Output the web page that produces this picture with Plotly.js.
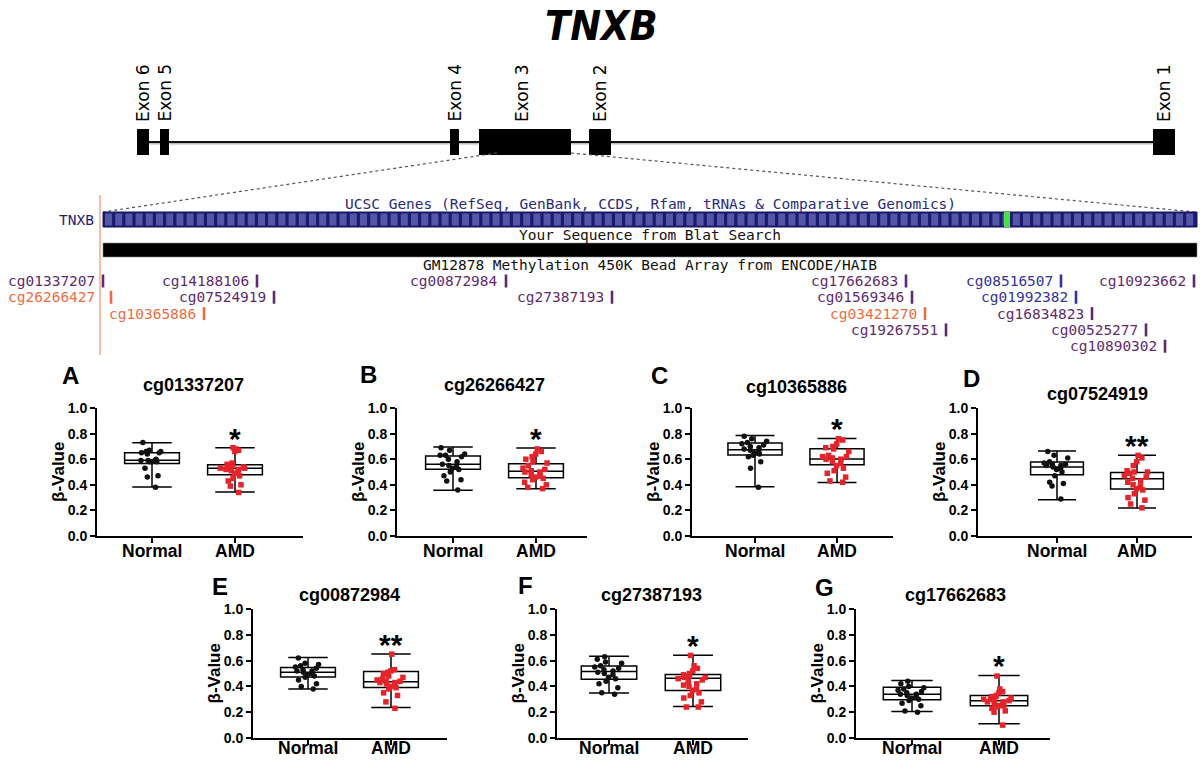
<!DOCTYPE html>
<html><head><meta charset="utf-8">
<script src="https://cdn.plot.ly/plotly-3.0.1.min.js"></script>
<style>html,body{margin:0;padding:0;background:#fff}#chart{width:1200px;height:760px}</style>
</head><body><div id="chart"></div>
<script>
// ---------------- DATA ----------------
// Gene model of TNXB (positions along the drawn gene, diagram units 0-1200)
const exonNames = ['Exon 6','Exon 5','Exon 4','Exon 3','Exon 2','Exon 1'];
const exonStart = [137, 160, 450, 479, 589, 1153];
const exonEnd   = [149, 169, 459, 571, 611, 1175];
const geneStart = 140, geneEnd = 1165;

// 450K probes in the zoomed exon 3 region (track units 0-1200)
const probeNames = ['cg01337207','cg14188106','cg00872984','cg17662683','cg08516507','cg10923662',
  'cg26266427','cg07524919','cg27387193','cg01569346','cg01992382',
  'cg10365886','cg03421270','cg16834823',
  'cg19267551','cg00525277','cg10890302'];
const probePos   = [103,257,506,906,1061,1194, 111,274,612,912,1076, 204,925,1092, 946,1146,1165];
const probeRow   = [0,0,0,0,0,0, 1,1,1,1,1, 2,2,2, 3,3,4];
const probeClass = ['p','p','p','p','b','p', 'o','p','p','p','b', 'o','o','p', 'p','p','p'];
const probeGap   = [6,6,6,6,6,6, 14,6,6,6,6, 6,6,6, 6,6,6];

// Box plot panels
const panelLetters = ['A','B','C','D','E','F','G'];
const panelProbes  = ['cg01337207','cg26266427','cg10365886','cg07524919','cg00872984','cg27387193','cg17662683'];
const panelSig     = ['*','*','*','**','**','*','*'];
const groups = ['Normal','AMD'];

// [min, q1, median, q3, max]
const boxNormalA = [0.383, 0.567, 0.592, 0.651, 0.729];
const boxAmdA    = [0.344, 0.479, 0.530, 0.557, 0.690];
const boxNormalB = [0.357, 0.521, 0.560, 0.625, 0.695];
const boxAmdB    = [0.370, 0.456, 0.505, 0.565, 0.688];
const boxNormalC = [0.384, 0.632, 0.674, 0.726, 0.786];
const boxAmdC    = [0.418, 0.556, 0.601, 0.681, 0.762];
const boxNormalD = [0.284, 0.479, 0.539, 0.578, 0.664];
const boxAmdD    = [0.219, 0.367, 0.448, 0.497, 0.630];
const boxNormalE = [0.379, 0.472, 0.510, 0.546, 0.624];
const boxAmdE    = [0.237, 0.392, 0.436, 0.515, 0.652];
const boxNormalF = [0.348, 0.456, 0.515, 0.559, 0.634];
const boxAmdF    = [0.245, 0.369, 0.464, 0.492, 0.642];
const boxNormalG = [0.206, 0.296, 0.340, 0.394, 0.446];
const boxAmdG    = [0.111, 0.250, 0.289, 0.330, 0.485];

const normalA = [0.73,0.67,0.66,0.66,0.65,0.65,0.64,0.60,0.59,0.59,0.59,0.58,0.58,0.58,0.53,0.47,0.46,0.38];
const amdA    = [0.69,0.68,0.67,0.66,0.57,0.56,0.55,0.54,0.54,0.53,0.53,0.53,0.52,0.52,0.51,0.50,0.49,0.47,0.45,0.43,0.40,0.39,0.34];
const normalB = [0.69,0.67,0.64,0.63,0.63,0.62,0.60,0.58,0.56,0.55,0.54,0.53,0.52,0.50,0.47,0.44,0.43,0.36];
const amdB    = [0.68,0.66,0.64,0.62,0.60,0.58,0.57,0.55,0.53,0.52,0.51,0.50,0.50,0.48,0.47,0.46,0.45,0.44,0.42,0.40,0.38,0.37];
const normalC = [0.78,0.76,0.74,0.73,0.72,0.71,0.70,0.69,0.68,0.67,0.66,0.65,0.64,0.63,0.62,0.58,0.53,0.38];
const amdC    = [0.76,0.75,0.72,0.70,0.69,0.68,0.66,0.63,0.62,0.62,0.61,0.60,0.60,0.58,0.57,0.55,0.53,0.51,0.49,0.46,0.43,0.42];
const normalD = [0.66,0.63,0.61,0.58,0.57,0.56,0.56,0.55,0.55,0.54,0.53,0.52,0.50,0.47,0.42,0.41,0.39,0.29];
const amdD    = [0.63,0.61,0.58,0.55,0.51,0.50,0.50,0.49,0.47,0.46,0.45,0.43,0.42,0.40,0.39,0.37,0.36,0.33,0.30,0.28,0.25,0.22];
const normalE = [0.62,0.58,0.57,0.56,0.55,0.54,0.53,0.52,0.52,0.51,0.50,0.49,0.48,0.47,0.45,0.42,0.40,0.38];
const amdE    = [0.65,0.53,0.52,0.51,0.50,0.48,0.47,0.46,0.45,0.44,0.44,0.43,0.43,0.42,0.41,0.40,0.39,0.38,0.35,0.33,0.28,0.23];
const normalF = [0.63,0.61,0.59,0.58,0.56,0.55,0.54,0.53,0.52,0.51,0.50,0.49,0.47,0.46,0.44,0.42,0.39,0.35,0.34];
const amdF    = [0.64,0.56,0.54,0.52,0.50,0.49,0.48,0.47,0.47,0.46,0.45,0.44,0.42,0.41,0.40,0.38,0.37,0.35,0.33,0.31,0.28,0.24,0.24];
const normalG = [0.44,0.42,0.40,0.39,0.38,0.37,0.36,0.35,0.34,0.34,0.33,0.32,0.31,0.30,0.29,0.27,0.25,0.21,0.20];
const amdG    = [0.48,0.38,0.36,0.35,0.33,0.32,0.32,0.31,0.30,0.30,0.29,0.29,0.28,0.28,0.27,0.26,0.25,0.25,0.24,0.23,0.21,0.20,0.10];

const yTicks = [0, 0.2, 0.4, 0.6, 0.8, 1.0];
const yTitle = 'β-Value';

// ---------------- STYLE / LAYOUT ----------------
const W = 1200, H = 760;
const SANS = 'Liberation Sans, Arial, Helvetica, sans-serif';
const MONO = 'DejaVu Sans Mono, Liberation Mono, monospace';
const MONO_SIZE = 14.5;
const probeColors = {p:'#5f2b70', b:'#34349c', o:'#ec6d43'};

const boxesNormal = [boxNormalA,boxNormalB,boxNormalC,boxNormalD,boxNormalE,boxNormalF,boxNormalG];
const boxesAmd    = [boxAmdA,boxAmdB,boxAmdC,boxAmdD,boxAmdE,boxAmdF,boxAmdG];
const ptsNormal   = [normalA,normalB,normalC,normalD,normalE,normalF,normalG];
const ptsAmd      = [amdA,amdB,amdC,amdD,amdE,amdF,amdG];

// pixel frame of each panel: left axis, Normal centre, AMD centre, right end
const frames = [
  {L:97,  N:152,  A:235,  R:303,  row:0, lx:70,  ly:375, ty:385},
  {L:397, N:453,  A:536,  R:587,  row:0, lx:368, ly:374, ty:385},
  {L:692, N:755,  A:837,  R:893,  row:0, lx:659, ly:375, ty:387},
  {L:978, N:1057, A:1137, R:1192, row:0, lx:971, ly:378, ty:394},
  {L:253, N:308,  A:391,  R:447,  row:1, lx:220, ly:586, ty:595},
  {L:557, N:609,  A:693,  R:748,  row:1, lx:525, ly:585, ty:595},
  {L:856, N:912,  A:999,  R:1050, row:1, lx:824, ly:587, ty:595}
];
const rows = [{top:408, bot:536}, {top:609, bot:738}];

const traces = [];
const layout = {
  width: W, height: H,
  margin: {l:0, r:0, t:0, b:0},
  paper_bgcolor: '#ffffff', plot_bgcolor: 'rgba(0,0,0,0)',
  showlegend: false, boxmode: 'overlay',
  font: {family: SANS, color: '#000'},
  shapes: [], annotations: []
};

frames.forEach((f, i) => {
  const n = i + 1, sx = n === 1 ? '' : String(n);
  const xa = 'x' + sx, ya = 'y' + sx;
  const unit = f.A - f.N;
  const r = rows[f.row];
  layout['xaxis' + sx] = {
    domain: [f.L / W, f.R / W], anchor: ya,
    type: 'category', categoryorder: 'array', categoryarray: groups,
    range: [-(f.N - f.L) / unit, 1 + (f.R - f.A) / unit],
    showline: true, linewidth: 2, linecolor: '#000', mirror: false,
    ticks: 'outside', ticklen: 5, tickwidth: 2, tickcolor: '#000',
    showgrid: false, zeroline: false, fixedrange: true, showticklabels: false
  };
  layout['yaxis' + sx] = {
    domain: [1 - r.bot / H, 1 - r.top / H], anchor: xa,
    range: [0, 1], tickvals: yTicks, tickformat: '.1f',
    showline: true, linewidth: 2, linecolor: '#000',
    ticks: 'outside', ticklen: 5, tickwidth: 2, tickcolor: '#000',
    showgrid: false, zeroline: false, fixedrange: true,
    tickfont: {family: SANS, size: 14, weight: 'bold', color: '#000'}
  };

  [[0, boxesNormal[i], ptsNormal[i], '#111111', 'circle'],
   [1, boxesAmd[i], ptsAmd[i], '#e3242b', 'square']].forEach(([g, b, pts, col, sym]) => {
    traces.push({
      type: 'box', xaxis: xa, yaxis: ya, x: [groups[g]],
      lowerfence: [b[0]], q1: [b[1]], median: [b[2]], q3: [b[3]], upperfence: [b[4]],
      boxpoints: false, width: 0.66, whiskerwidth: 0.72,
      fillcolor: 'rgba(255,255,255,1)', line: {color: '#000', width: 1.5},
      hoverinfo: 'skip'
    });
    traces.push({
      type: 'box', xaxis: xa, yaxis: ya, x: pts.map(() => groups[g]), y: pts,
      boxpoints: 'all', jitter: 0.55, pointpos: 0, width: 0.66,
      fillcolor: 'rgba(0,0,0,0)', line: {color: 'rgba(0,0,0,0)', width: 0},
      marker: {color: col, size: 5.5, symbol: sym},
      whiskerwidth: 0
    });
    // category label under the axis (bottom row is pinned to the page edge)
    const lab = f.row === 0
      ? {y: 1 - r.bot / H, yshift: -3, yanchor: 'top'}
      : {y: 0, yshift: 0, yanchor: 'bottom'};
    layout.annotations.push({xref: xa, yref: 'paper', x: groups[g], y: lab.y, yshift: lab.yshift,
      text: groups[g], showarrow: false, xanchor: 'center', yanchor: lab.yanchor,
      font: {family: SANS, size: 17.5, weight: 'bold', color: '#000'}});
  });

  // y-axis title
  layout.annotations.push({xref: 'paper', yref: ya, x: (f.L - 39) / W, y: 0.5, textangle: -90,
    text: yTitle, showarrow: false, xanchor: 'center', yanchor: 'middle',
    font: {family: SANS, size: 17, weight: 'bold', color: '#000'}});
  // panel letter
  layout.annotations.push({xref:'paper', yref:'paper', x: f.lx / W, y: 1 - f.ly / H,
    text: panelLetters[i], showarrow: false, xanchor: 'center', yanchor: 'middle',
    font: {family: SANS, size: 24, weight: 'bold', color: '#000'}});
  // panel title (probe id), centred between the two groups
  layout.annotations.push({xref: xa, yref:'paper', x: 0.5, y: 1 - f.ty / H,
    text: panelProbes[i], showarrow: false, xanchor: 'center', yanchor: 'middle',
    font: {family: SANS, size: 18, weight: 'bold', color: '#000'}});
  // significance mark above AMD whisker
  layout.annotations.push({xref: xa, yref: ya, x: groups[1], y: boxesAmd[i][4],
    text: panelSig[i], showarrow: false, xanchor: 'center', yanchor: 'bottom', yshift: -9,
    font: {family: SANS, size: 30, weight: 'bold', color: '#000'}});
});

// Overlay axis for the gene diagram / genome browser track (top part)
const TOP = 365;
layout.xaxis8 = {domain: [0, 1], range: [0, W], visible: false, fixedrange: true, anchor: 'y8'};
layout.yaxis8 = {domain: [1 - TOP / H, 1], range: [TOP, 0], visible: false, fixedrange: true, anchor: 'x8'};
traces.push({type:'scatter', xaxis:'x8', yaxis:'y8', x:[0], y:[0], mode:'markers',
  marker:{opacity:0}, hoverinfo:'skip'});
const S = layout.shapes, AN = layout.annotations;
const ov = {xref:'x8', yref:'y8'};

// Title
AN.push({...ov, x: 601, y: 0, text: '<i>TNXB</i>', showarrow: false, xanchor:'center', yanchor:'top',
  font: {family: 'Liberation Sans Narrow, DejaVu Sans Condensed, Arial Narrow, sans-serif', size: 41, weight: 'bold', color:'#000'}});

// Gene backbone and exons
S.push({...ov, type:'line', x0: geneStart, x1: geneEnd, y0: 143.5, y1: 143.5, line:{color:'#bbbbbb', width:2}});
S.push({...ov, type:'line', x0: geneStart, x1: geneEnd, y0: 142, y1: 142, line:{color:'#111', width:2}});
exonNames.forEach((nm, k) => {
  S.push({...ov, type:'rect', x0: exonStart[k], x1: exonEnd[k], y0: 129, y1: 155,
    fillcolor:'#000', line:{width:0}});
  AN.push({...ov, x: (exonStart[k] + exonEnd[k]) / 2 + (k === 3 ? -3 : 0), y: 124, text: nm, textangle: -90,
    showarrow:false, xanchor:'center', yanchor:'bottom',
    font:{family:'DejaVu Sans, Verdana, sans-serif', size:17, color:'#000'}});
});
// zoom lines from exon 3 to the browser track
S.push({...ov, type:'line', x0: 497, y0: 153, x1: 103, y1: 212, line:{color:'#555', width:1.2, dash:'dot'}});
S.push({...ov, type:'line', x0: exonEnd[3], y0: 153, x1: 1195, y1: 212, line:{color:'#555', width:1.2, dash:'dot'}});

// Browser track
S.push({...ov, type:'line', x0: 100, x1: 100, y0: 195, y1: 355, line:{color:'#f2a689', width:1.5}});
AN.push({...ov, x: 650, y: 204, text: 'UCSC Genes (RefSeq, GenBank, CCDS, Rfam, tRNAs &amp; Comparative Genomics)',
  showarrow:false, xanchor:'center', yanchor:'middle', font:{family:MONO, size:MONO_SIZE, color:'#2b2b7d'}});
AN.push({...ov, x: 96, y: 220, text: 'TNXB', showarrow:false, xanchor:'right', yanchor:'middle',
  font:{family:MONO, size:MONO_SIZE, color:'#1f1f70'}});
S.push({...ov, type:'rect', x0: 103, x1: 1197, y0: 212, y1: 227, fillcolor:'#1b1b72', line:{color:'#15155e', width:1}});
for (let sx = 105; sx < 1194; sx += 10.2) {
  S.push({...ov, type:'rect', x0: sx, x1: Math.min(sx + 7, 1195), y0: 213.5, y1: 225.5, fillcolor:'#5656a6', line:{width:0}});
}
S.push({...ov, type:'rect', x0: 1004, x1: 1010, y0: 212, y1: 227, fillcolor:'#4be04b', line:{width:0}});
AN.push({...ov, x: 650, y: 235, text: 'Your Sequence from Blat Search', showarrow:false, xanchor:'center', yanchor:'middle',
  font:{family:MONO, size:MONO_SIZE, color:'#111'}});
S.push({...ov, type:'rect', x0: 103, x1: 1197, y0: 243, y1: 257, fillcolor:'#000', line:{color:'#888', width:0.6}});
AN.push({...ov, x: 650, y: 265, text: 'GM12878 Methylation 450K Bead Array from ENCODE/HAIB', showarrow:false,
  xanchor:'center', yanchor:'middle', font:{family:MONO, size:MONO_SIZE, color:'#111'}});

// probes
probeNames.forEach((nm, k) => {
  const yc = 281 + probeRow[k] * 16.3;
  const col = probeColors[probeClass[k]];
  S.push({...ov, type:'line', x0: probePos[k], x1: probePos[k], y0: yc - 6.5, y1: yc + 6.5, line:{color: col, width: 2.6}});
  AN.push({...ov, x: probePos[k] - probeGap[k], y: yc, text: nm, showarrow:false, xanchor:'right', yanchor:'middle',
    font:{family:MONO, size:MONO_SIZE, color: col}});
});

Plotly.newPlot('chart', traces, layout, {staticPlot: true, displayModeBar: false});
</script>
</body></html>
